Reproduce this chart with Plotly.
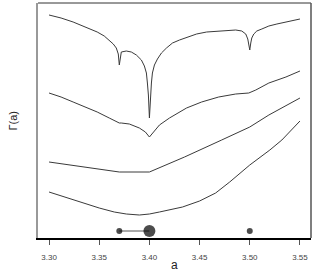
import plotly.graph_objects as go

# Curve 1 (top)
x1 = [3.300, 3.312, 3.324, 3.336, 3.348, 3.355, 3.360, 3.364, 3.367, 3.369, 3.370, 3.371, 3.372, 3.377, 3.382, 3.387,
      3.392, 3.395, 3.397, 3.398, 3.399, 3.400,
      3.401, 3.402, 3.403, 3.405, 3.408, 3.412, 3.417, 3.423, 3.430, 3.438, 3.447, 3.457, 3.469, 3.486, 3.492, 3.496,
      3.498, 3.499, 3.500, 3.501, 3.502, 3.504, 3.507, 3.512, 3.519, 3.527, 3.536, 3.550]
y1 = [223, 220, 216, 211, 206, 202, 198, 194, 190, 184, 173, 180, 186, 187, 186, 183,
      178, 172, 165, 155, 143, 120,
      143, 155, 165, 173, 179, 185, 190, 195, 198, 201, 204, 206, 207, 208, 207, 204,
      199, 195, 188, 195, 200, 204, 207, 209, 212, 214, 216, 219]

# Curve 2
x2 = [3.300, 3.312, 3.324, 3.336, 3.348, 3.360, 3.370, 3.372, 3.380, 3.390, 3.396, 3.400, 3.404, 3.410, 3.420, 3.428,
      3.437, 3.452, 3.469, 3.486, 3.499, 3.506, 3.519, 3.536, 3.550]
y2 = [145, 141, 136, 131, 126, 120, 115, 115, 114, 110, 106, 101, 106, 113, 120, 125,
      130, 136, 141, 144, 145, 148, 155, 161, 167]

# Curve 3
x3 = [3.300, 3.335, 3.370, 3.400, 3.435, 3.472, 3.500, 3.519, 3.550]
y3 = [76, 71, 66, 66, 81, 98, 111, 123, 140]

# Curve 4 (bottom)
x4 = [3.300, 3.325, 3.350, 3.365, 3.377, 3.390, 3.400, 3.410, 3.420, 3.433, 3.450, 3.466, 3.480, 3.500, 3.520, 3.532, 3.550]
y4 = [46, 38, 30, 26, 24, 23, 24, 26, 28, 31, 37, 45, 56, 73, 88, 98, 117]

# Markers along bottom
dot_x = [3.37, 3.40, 3.50]
dot_y = [7, 7, 7]
dot_size = [6, 12, 6]
seg_x = [3.37, 3.40]
seg_y = [7, 7]

tick_vals = [3.30, 3.35, 3.40, 3.45, 3.50, 3.55]
tick_text = ["3.30", "3.35", "3.40", "3.45", "3.50", "3.55"]

curve_color = "#3a3a3a"
fig = go.Figure()
for xs, ys in [(x1, y1), (x2, y2), (x3, y3), (x4, y4)]:
    fig.add_trace(go.Scatter(x=xs, y=ys, mode="lines",
                             line=dict(color=curve_color, width=1), hoverinfo="skip"))
fig.add_trace(go.Scatter(x=seg_x, y=seg_y, mode="lines",
                         line=dict(color="#555555", width=1), hoverinfo="skip"))
fig.add_trace(go.Scatter(x=dot_x, y=dot_y, mode="markers",
                         marker=dict(color="black", size=dot_size, line=dict(width=0)),
                         hoverinfo="skip"))

fig.update_layout(
    width=316, height=279,
    margin=dict(l=38, r=5, t=3, b=41),
    paper_bgcolor="white", plot_bgcolor="white",
    showlegend=False,
    font=dict(family="Liberation Sans, Arial, sans-serif", color="#333333"),
    xaxis=dict(range=[3.289, 3.561], tickvals=tick_vals, ticktext=tick_text,
               ticks="outside", ticklen=5, tickwidth=1, tickcolor="#555555",
               ticklabelstandoff=6,
               tickfont=dict(size=8, color="#444444"),
               showline=True, linecolor="black", linewidth=1.5,
               showgrid=False, zeroline=False),
    yaxis=dict(range=[0, 235], showticklabels=False, ticks="",
               showline=True, linecolor="#999999", linewidth=2,
               showgrid=False, zeroline=False),
    shapes=[
        dict(type="line", xref="paper", yref="paper", x0=0, x1=1, y0=1, y1=1,
             line=dict(color="#333333", width=1)),
        dict(type="line", xref="paper", yref="paper", x0=1, x1=1, y0=0, y1=1,
             line=dict(color="#555555", width=1.5)),
    ],
    annotations=[
        dict(text="a", xref="paper", yref="paper", x=0.5, y=0, yshift=-27,
             showarrow=False, xanchor="center", yanchor="middle",
             font=dict(size=12, color="#222222")),
        dict(text="Γ(a)", xref="paper", yref="paper", x=0, y=0.5, xshift=-26,
             showarrow=False, textangle=-90, xanchor="center", yanchor="middle",
             font=dict(size=11, color="#222222")),
    ],
)

fig.write_html("out.html", config={"displayModeBar": False},
               post_script="document.body.style.margin='0';")
